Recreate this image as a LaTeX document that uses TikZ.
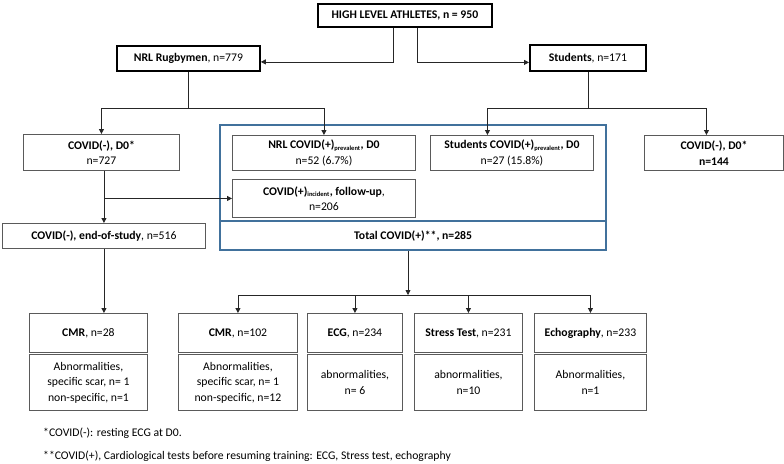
\documentclass[tikz,border=0pt]{standalone}
\usepackage{fontspec}
\setmainfont{Carlito}
\usetikzlibrary{arrows.meta}

\definecolor{boxgray}{HTML}{5A5A5A}
\definecolor{frameblue}{HTML}{41719C}
\newcommand{\lowtag}[1]{\textsubscript{\fontsize{6.5}{7}\selectfont #1}}

\tikzset{
  box/.style={draw=boxgray, line width=0.9pt, anchor=north west, align=center, inner sep=1pt},
  headbox/.style={box, draw=black, line width=1.8pt},
  bluebox/.style={box, draw=frameblue, line width=2.2pt},
  link/.style={draw=black!85, line width=0.8pt},
  arr/.style={link, -{Triangle[length=5pt,width=5pt]}},
}

\begin{document}
\begin{tikzpicture}[x=1pt,y=-1pt]
\fontsize{11.7}{15.5}\selectfont
\useasboundingbox (0,0) rectangle (784,463);

\node[headbox, minimum width=174, minimum height=23] (top) at (317,3) {\textbf{HIGH LEVEL ATHLETES, n = 950}};
\node[headbox, minimum width=143, minimum height=25] (nrl) at (116,45) {\textbf{NRL Rugbymen}, n=779};
\node[headbox, minimum width=116, minimum height=26] (stu) at (529,44) {\textbf{Students}, n=171};

\node[bluebox, minimum width=386, minimum height=125] (frame) at (219,124) {};
\node[bluebox, minimum width=386, minimum height=29] (total) at (219,220) {\textbf{Total COVID(+)**, n=285}};

\node[box, minimum width=156, minimum height=36] (negnrl) at (23,134) {\textbf{COVID(-), D0*}\\n=727};
\node[box, minimum width=183, minimum height=35] (posnrl) at (232,135) {\textbf{NRL COVID(+)\lowtag{prevalent}, D0}\\n=52 (6.7\%)};
\node[box, minimum width=163, minimum height=35] (posstu) at (430,135) {\textbf{Students COVID(+)\lowtag{prevalent}, D0}\\n=27 (15.8\%)};
\node[box, minimum width=139, minimum height=35] (negstu) at (644,135) {\textbf{COVID(-), D0*}\\\textbf{n=144}};
\node[box, minimum width=183, minimum height=38] (incid) at (232,179) {\textbf{COVID(+)\lowtag{incident}, follow-up}, \\n=206};
\node[box, minimum width=203, minimum height=25] (endst) at (2,223) {\textbf{COVID(-), end-of-study}, n=516};

\node[box, minimum width=118, minimum height=39] (cmra) at (29,313) {\textbf{CMR}, n=28};
\node[box, minimum width=119, minimum height=39] (cmrb) at (178,313) {\textbf{CMR}, n=102};
\node[box, minimum width=95, minimum height=39] (ecg) at (307,313) {\textbf{ECG}, n=234};
\node[box, minimum width=108, minimum height=39] (stress) at (414,313) {\textbf{Stress Test}, n=231};
\node[box, minimum width=112, minimum height=39] (echo) at (534,313) {\textbf{Echography}, n=233};

\node[box, minimum width=118, minimum height=56] (cmrares) at (29,354) {Abnormalities,\\specific scar, n= 1\\non-specific, n=1};
\node[box, minimum width=119, minimum height=56] (cmrbres) at (178,354) {Abnormalities,\\specific scar, n= 1\\non-specific, n=12};
\node[box, minimum width=95, minimum height=56] (ecgres) at (307,354) {abnormalities,\\n= 6};
\node[box, minimum width=108, minimum height=56] (stressres) at (414,354) {abnormalities,\\n=10};
\node[box, minimum width=112, minimum height=56] (echores) at (534,354) {Abnormalities,\\n=1};

\node[anchor=west, inner sep=0pt] (note1) at (43,433) {*COVID(-): resting ECG at D0.};
\node[anchor=west, inner sep=0pt] (note2) at (43,456) {**COVID(+), Cardiological tests before resuming training: ECG, Stress test, echography};

\draw[arr] ([xshift=-12pt]top.south) |- ([yshift=-3.5pt]nrl.east);
\draw[arr] ([xshift=12pt]top.south) |- ([yshift=-4.5pt]stu.west);

\draw[arr] (nrl.south) -- ++(0,37) -| (negnrl.north);
\draw[arr] (nrl.south) -- ++(0,37) -| (posnrl.north);
\draw[arr] (stu.south) -- ++(0,37) -| ([xshift=-24.5pt]posstu.north);
\draw[arr] (stu.south) -- ++(0,37) -| ([xshift=-7.5pt]negstu.north);

\draw[arr] (endst.north |- negnrl.south) -- (endst.north);
\draw[arr] (endst.north |- incid.west) -- (incid.west);
\draw[arr] (endst.south) -- (endst.south |- cmra.north);

\coordinate (hub) at (408,295);
\draw[arr] (total.south -| hub) -- (hub);
\draw[arr] (hub) -| (cmrb.north);
\draw[arr] (hub) -| (ecg.north);
\draw[arr] (hub) -| (stress.north);
\draw[arr] (hub) -| (echo.north);
\end{tikzpicture}
\end{document}
